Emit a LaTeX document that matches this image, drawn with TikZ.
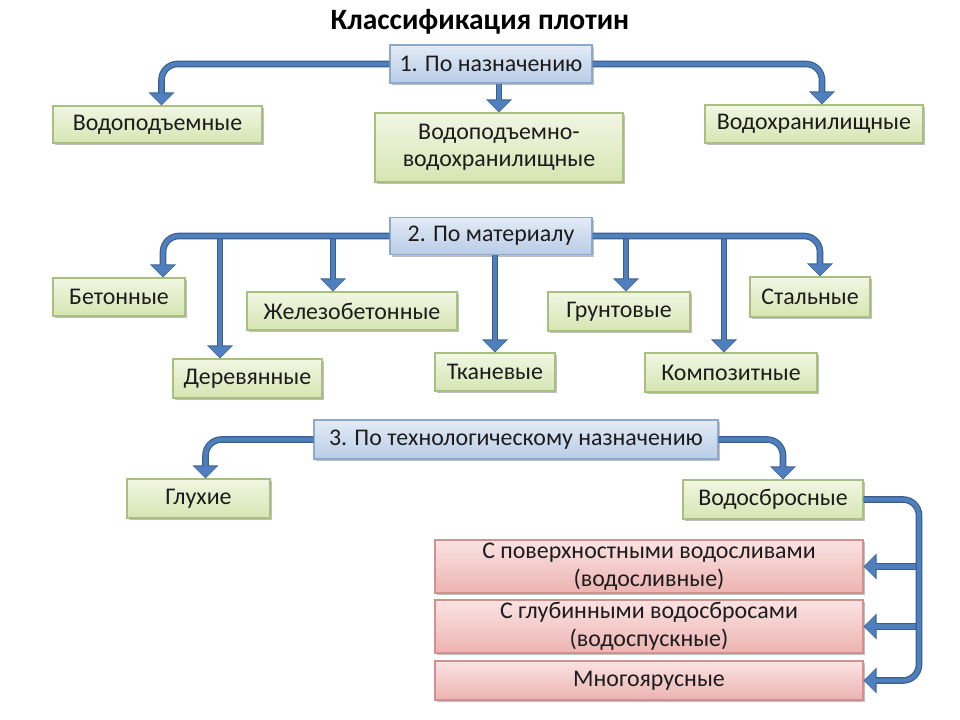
\documentclass[tikz,border=0pt]{standalone}
\usepackage{fontspec}
\setmainfont{Carlito}
\usetikzlibrary{arrows.meta, shadows}
\definecolor{leaftop}{HTML}{F1F6E3}
\definecolor{leafbot}{HTML}{D6E5B2}
\definecolor{leafborder}{HTML}{A9BF82}
\definecolor{cattop}{HTML}{E3EBF6}
\definecolor{catbot}{HTML}{B8CCE6}
\definecolor{catborder}{HTML}{8EA9CC}
\definecolor{subtop}{HTML}{FAE3E2}
\definecolor{subbot}{HTML}{ECB3B1}
\definecolor{subborder}{HTML}{CF9290}
\definecolor{arrowfill}{HTML}{4F7FBC}
\definecolor{arrowline}{HTML}{3A5F8E}
\definecolor{darktext}{HTML}{1C1C1C}
\newdimen\pu \pu=0.025cm
\tikzset{
  card/.style={rectangle, align=center, line width=0.8pt, inner sep=0pt,
    font=\fontsize{17}{19.5}\selectfont, text=darktext,
    drop shadow={shadow xshift=1.2pt, shadow yshift=-1.6pt, opacity=0.25, fill=black}},
  catbox/.style={card, top color=cattop, bottom color=catbot, draw=catborder},
  leafbox/.style={card, top color=leaftop, bottom color=leafbot, draw=leafborder},
  subbox/.style={card, top color=subtop, bottom color=subbot, draw=subborder},
  wh/.style 2 args={minimum width=#1\pu, minimum height=#2\pu},
  heading/.style={font=\fontsize{21}{24}\selectfont\bfseries, text=black},
  flow/.style={line width=1.05mm, draw=arrowfill, rounded corners=4mm, shorten >=0.25mm,
    -{Triangle[width=5.5mm, length=2.75mm]},
    preaction={draw=arrowline, line width=1.65mm, shorten >=0pt, -{Triangle[width=6.25mm, length=3.25mm]}}},
}
\begin{document}
\begin{tikzpicture}[x=0.025cm, y=-0.025cm]

% ===== Canvas =====
\fill[white] (0,0) rectangle (960,720);
\useasboundingbox (0,0) rectangle (960,720);

\node[heading] (title) at (480,22) {Классификация плотин};

% ===== 1. По назначению =====
\node[catbox, wh={202}{38}] (p1) at (491,64) {1. По назначению};
\node[leafbox, wh={209}{37}] (vp) at (157.5,124.5) {Водоподъемные};
\node[leafbox, wh={248}{69}] (vpvh) at (499,147.5) {Водоподъемно-\\водохранилищные};
\node[leafbox, wh={218}{38}] (vh) at (814,124) {Водохранилищные};

% ===== 2. По материалу =====
\node[catbox, wh={202}{37}] (p2) at (491,236) {2. По материалу};
\node[leafbox, wh={132}{38}] (bet) at (119,297) {Бетонные};
\node[leafbox, wh={149}{39}] (der) at (247.5,378.5) {Деревянные};
\node[leafbox, wh={210}{38}] (zhel) at (352,311) {Железобетонные};
\node[leafbox, wh={120}{38}] (tkan) at (495,372) {Тканевые};
\node[leafbox, wh={142}{39}] (grun) at (619,311.5) {Грунтовые};
\node[leafbox, wh={172}{39}] (komp) at (731,372.5) {Композитные};
\node[leafbox, wh={120}{40}] (stal) at (810,297) {Стальные};

% ===== 3. По технологическому назначению =====
\node[catbox, wh={404}{39}] (p3) at (516,439.5) {3. По технологическому назначению};
\node[leafbox, wh={143}{39}] (gluh) at (198.5,498.5) {Глухие};
\node[leafbox, wh={180}{39}] (vodsb) at (773,499.5) {Водосбросные};
\node[subbox, wh={428}{53}] (pov) at (649,566.5) {С поверхностными водосливами\\(водосливные)};
\node[subbox, wh={428}{53}] (glub) at (649,626.5) {С глубинными водосбросами\\(водоспускные)};
\node[subbox, wh={428}{39}] (mnog) at (649,680.5) {Многоярусные};

% ===== Flow =====
\draw[flow] (p1.west) -| ([xshift=1mm]vp.north);
\draw[flow] (vpvh.north |- p1.south) -- (vpvh.north);
\draw[flow] (p1.east) -| ([xshift=2mm]vh.north);

\coordinate (jder)  at (220,236);
\coordinate (jzhel) at (333,236);
\coordinate (jgrun) at (626,236);
\coordinate (jkomp) at (724,236);
\draw[flow] (jder) -- (jder |- der.north);
\draw[flow] (jzhel) -- (jzhel |- zhel.north);
\draw[flow] (jgrun) -- (jgrun |- grun.north);
\draw[flow] (jkomp) -- (jkomp |- komp.north);
\draw[flow] (tkan.north |- p2.south) -- (tkan.north);
\draw[flow] (p2.west) -| ([xshift=11mm]bet.north);
\draw[flow] (p2.east) -| ([xshift=2.5mm]stal.north);

\draw[flow] (p3.west) -| ([xshift=1.75mm]gluh.north);
\draw[flow] (p3.east) -| ([xshift=2.5mm]vodsb.north);
\coordinate (rail) at (919,590);
\draw[flow] (rail |- pov.east) -- (pov.east);
\draw[flow] (rail |- glub.east) -- (glub.east);
\draw[flow] (vodsb.east) -| (rail) |- (mnog.east);

\end{tikzpicture}
\end{document}
